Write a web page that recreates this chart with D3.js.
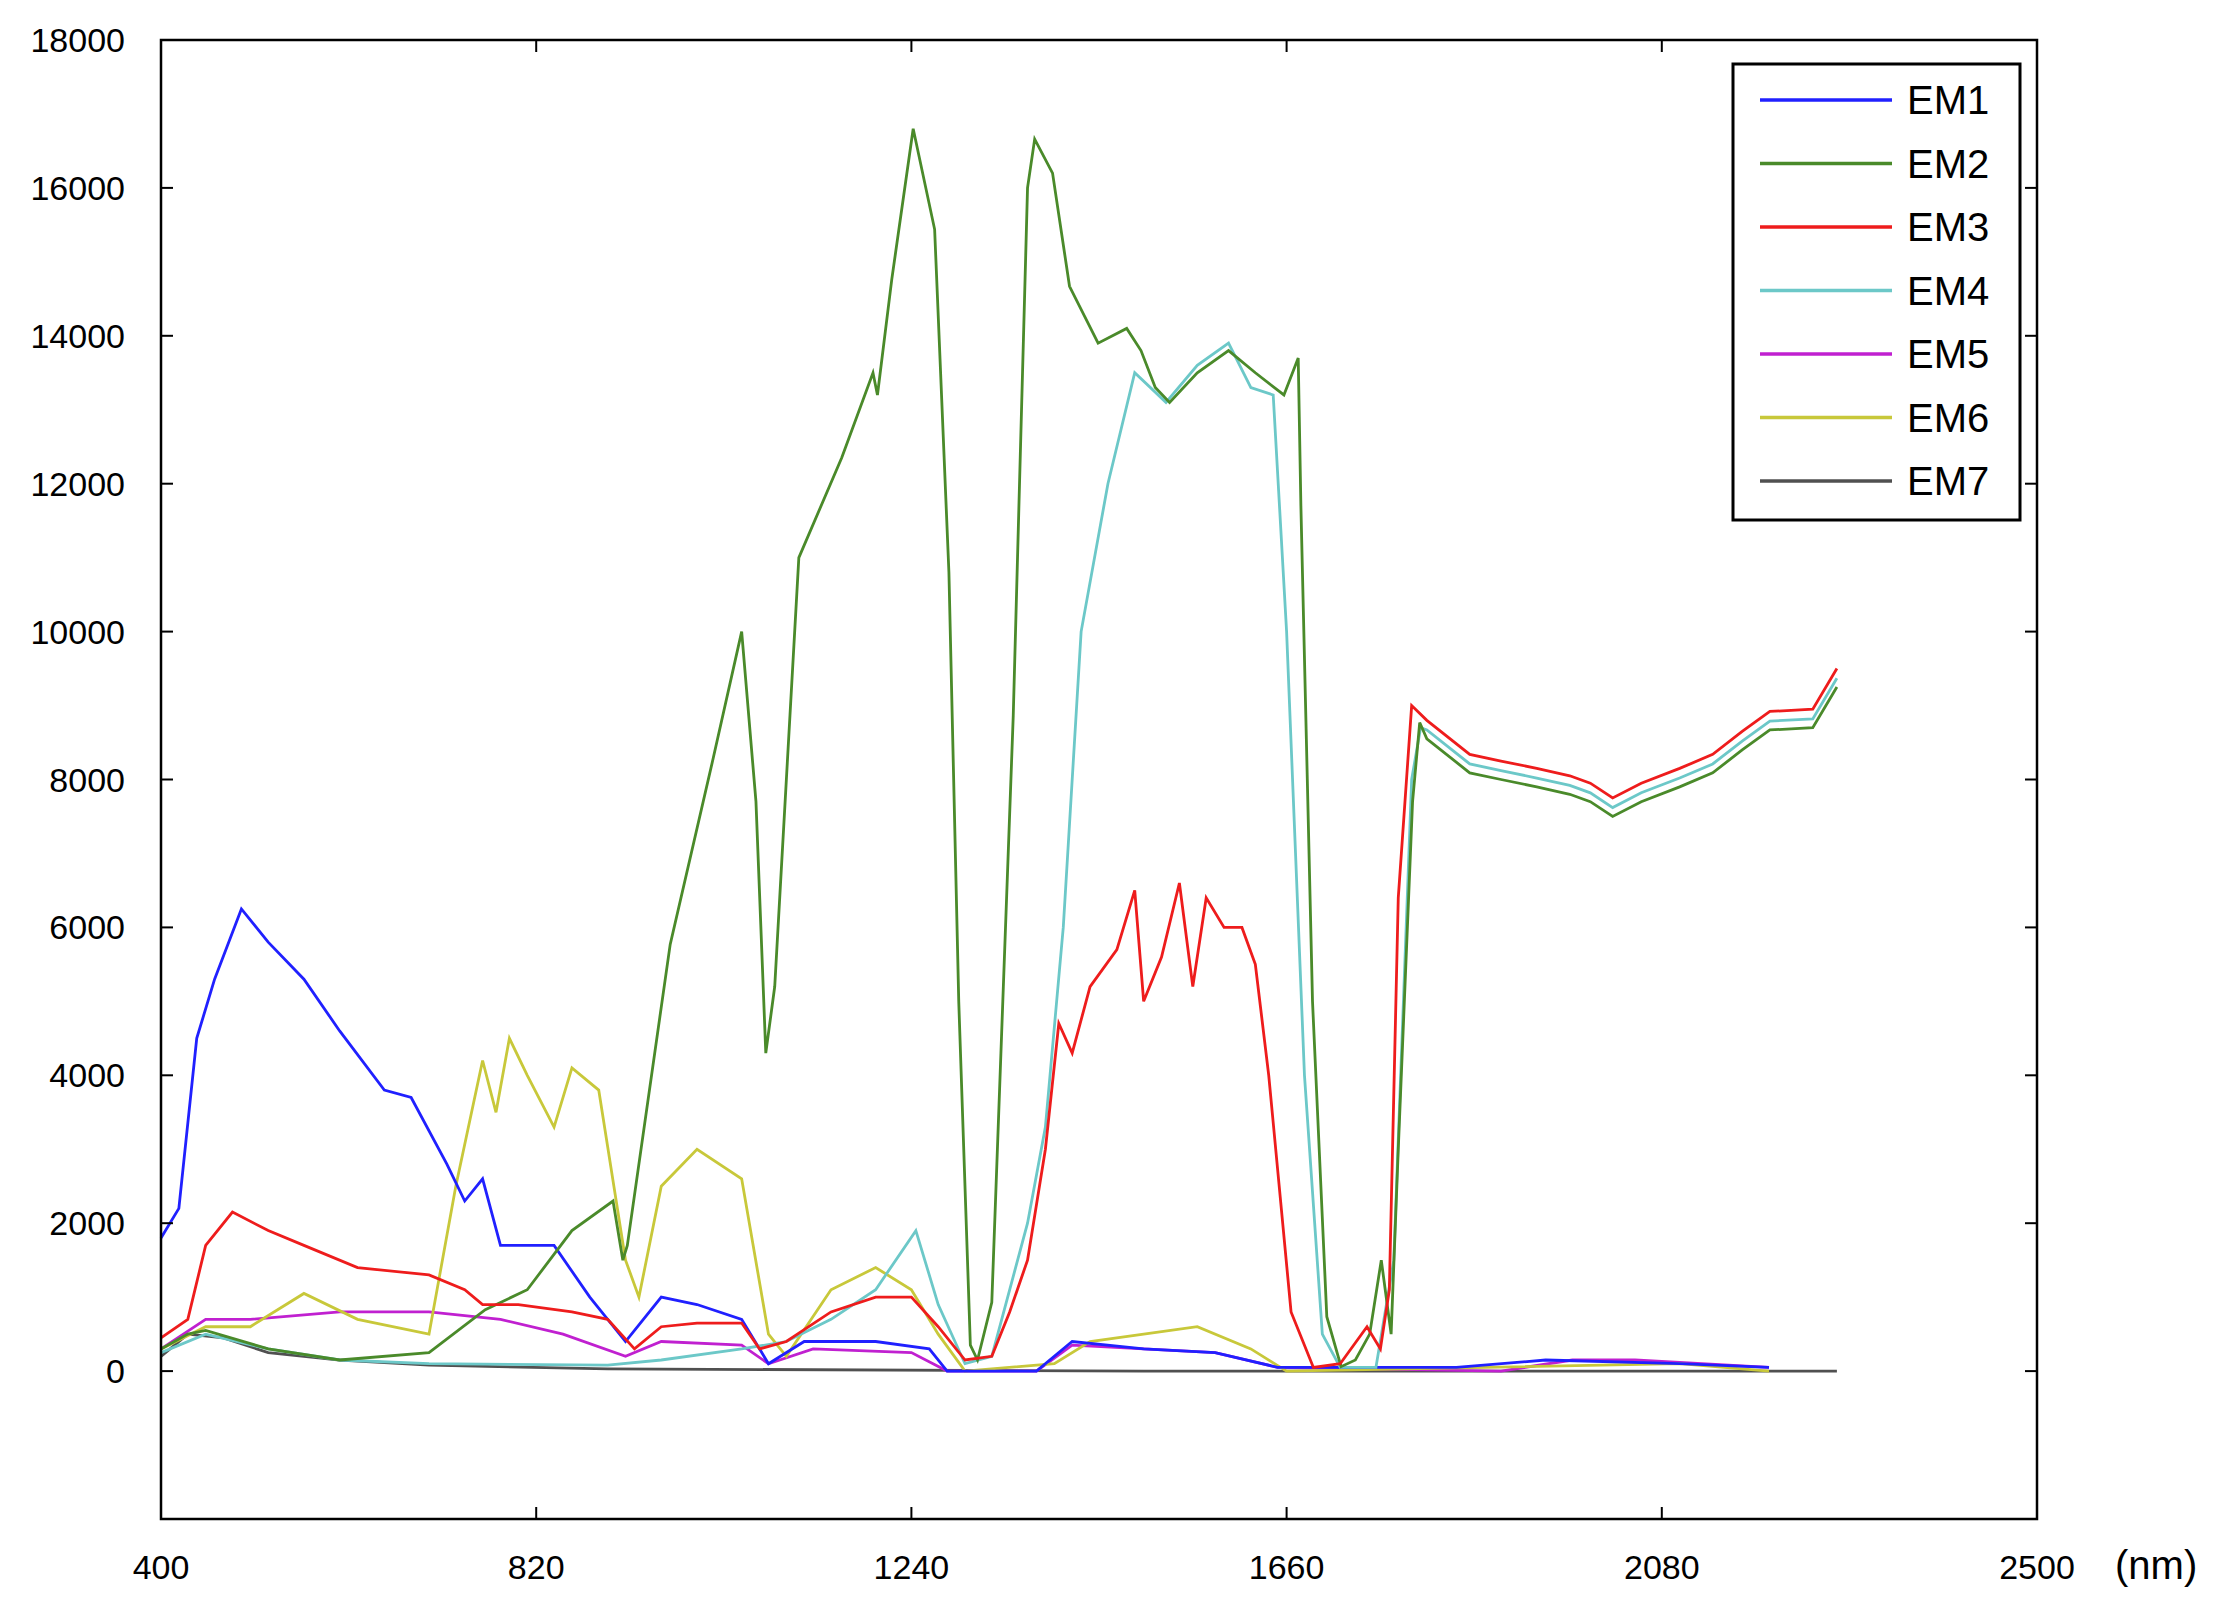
<!DOCTYPE html>
<html><head><meta charset="utf-8">
<script src="https://cdn.jsdelivr.net/npm/d3@7"></script>
<style>body{margin:0;background:#fff}svg{font-family:"Liberation Sans",Arial,sans-serif}</style>
</head><body><svg id="c" width="2229" height="1614"></svg>
<script>
const xTicks=[400,820,1240,1660,2080,2500];
const yTicks=[0,2000,4000,6000,8000,10000,12000,14000,16000,18000];
const seriesNames=["EM1","EM2","EM3","EM4","EM5","EM6","EM7"];
const colors=["#2020ff","#4a8a2a","#ee1c1c","#6cc8c8","#c020d0","#c8c83a","#505050"];
const tail=[[1817,8550],[1865,8090],[1900,8000],[1940,7900],[1977,7800],[2000,7700],[2025,7500],[2057,7700],[2100,7900],[2137,8090],[2170,8400],[2201,8670],[2249,8700],[2276,9250]];
const em1=[[400,1800],[420,2200],[440,4500],[460,5300],[490,6250],[520,5800],[560,5300],[600,4600],[650,3800],[680,3700],[720,2800],[740,2300],[760,2600],[780,1700],[810,1700],[840,1700],[880,1000],[920,400],[960,1000],[1000,900],[1050,700],[1080,100],[1120,400],[1200,400],[1260,300],[1280,0],[1380,0],[1420,400],[1500,300],[1580,250],[1650,50],[1850,50],[1950,150],[2100,100],[2200,50]];
const em2=[[400,300],[430,500],[450,550],[520,300],[600,150],[700,250],[763,830],[810,1100],[860,1900],[906,2300],[917,1500],[922,1700],[970,5770],[1018,8280],[1050,10000],[1066,7700],[1077,4300],[1087,5200],[1114,11000],[1162,12350],[1197,13500],[1202,13200],[1218,14760],[1242,16800],[1266,15440],[1282,10800],[1293,5000],[1306,350],[1314,150],[1330,930],[1354,8860],[1370,16000],[1378,16660],[1398,16200],[1417,14670],[1449,13900],[1481,14100],[1497,13800],[1513,13300],[1529,13100],[1560,13500],[1595,13800],[1625,13500],[1657,13200],[1673,13700],[1676,11700],[1689,5000],[1705,735],[1721,60],[1737,150],[1753,500],[1766,1500],[1777,500],[1785,3000],[1801,7700],[1809,8770],...tail];
const em3=[[400,450],[430,700],[450,1700],[480,2150],[520,1900],[560,1700],[620,1400],[700,1300],[740,1100],[760,900],[800,900],[860,800],[900,700],[930,300],[960,600],[1000,650],[1050,650],[1070,300],[1100,400],[1150,800],[1200,1000],[1240,1000],[1270,600],[1300,150],[1330,200],[1350,800],[1370,1500],[1390,3000],[1405,4700],[1420,4300],[1440,5200],[1470,5700],[1490,6500],[1500,5000],[1520,5600],[1540,6600],[1555,5200],[1570,6400],[1590,6000],[1610,6000],[1625,5500],[1640,4000],[1665,800],[1690,50],[1720,100],[1750,600],[1765,300],[1775,1100],[1785,6400],[1800,9000],...tail.map(d=>[d[0],d[1]+250])];
const em4=[[400,250],[450,500],[520,300],[600,150],[700,100],[900,80],[960,150],[1050,300],[1100,400],[1150,700],[1200,1100],[1245,1900],[1270,900],[1300,100],[1330,200],[1370,2000],[1390,3300],[1410,6000],[1430,10000],[1460,12000],[1490,13500],[1525,13100],[1560,13600],[1595,13900],[1620,13300],[1645,13200],[1660,10000],[1680,4000],[1700,500],[1720,50],[1760,50],[1780,1500],[1800,8000],[1810,8700],...tail.map(d=>[d[0],d[1]+120])];
const em5=[[400,300],[450,700],[500,700],[600,800],[700,800],[780,700],[850,500],[920,200],[960,400],[1050,350],[1080,100],[1130,300],[1240,250],[1280,0],[1380,0],[1420,350],[1500,300],[1580,250],[1650,50],[1900,0],[1980,150],[2050,150],[2200,50]];
const em6=[[400,300],[450,600],[500,600],[560,1050],[620,700],[700,500],[730,2500],[760,4200],[775,3500],[790,4500],[810,4000],[840,3300],[860,4100],[890,3800],[920,1500],[935,1000],[960,2500],[1000,3000],[1050,2600],[1080,500],[1100,200],[1150,1100],[1200,1400],[1240,1100],[1270,500],[1300,0],[1400,100],[1440,400],[1560,600],[1620,300],[1660,0],[2100,100],[2200,0]];
const em7=[[400,200],[430,500],[470,450],[520,250],[600,150],[700,80],[900,30],[1500,0],[2276,0]];
const data=[em1,em2,em3,em4,em5,em6,em7];

const svg=d3.select("#c");
const L=161,R=2037,T=40,B=1519;
const x=d3.scaleLinear().domain([400,2500]).range([L,R]);
const y=d3.scaleLinear().domain([-2000,18000]).range([B,T]);
const line=d3.line().x(d=>x(d[0])).y(d=>y(d[1])).curve(d3.curveLinear);
const g=svg.append("g");
// draw order: lower series first, green and red on top
[6,4,5,0,3,1,2].forEach(i=>{
  g.append("path").attr("d",line(data[i])).attr("fill","none").attr("stroke",colors[i]).attr("stroke-width",2.8);
});
svg.append("rect").attr("x",L).attr("y",T).attr("width",R-L).attr("height",B-T).attr("fill","none").attr("stroke","#000").attr("stroke-width",2.5);
const tl=12;
xTicks.forEach(v=>{
  svg.append("line").attr("x1",x(v)).attr("x2",x(v)).attr("y1",B).attr("y2",B-tl).attr("stroke","#000").attr("stroke-width",2);
  svg.append("line").attr("x1",x(v)).attr("x2",x(v)).attr("y1",T).attr("y2",T+tl).attr("stroke","#000").attr("stroke-width",2);
  svg.append("text").attr("x",x(v)).attr("y",B+60).attr("text-anchor","middle").attr("font-size",34).text(v);
});
svg.append("text").attr("x",2115).attr("y",B+60).attr("font-size",40).text("(nm)");
yTicks.forEach(v=>{
  svg.append("line").attr("x1",L).attr("x2",L+tl).attr("y1",y(v)).attr("y2",y(v)).attr("stroke","#000").attr("stroke-width",2);
  svg.append("line").attr("x1",R).attr("x2",R-tl).attr("y1",y(v)).attr("y2",y(v)).attr("stroke","#000").attr("stroke-width",2);
  svg.append("text").attr("x",125).attr("y",y(v)+12).attr("text-anchor","end").attr("font-size",34).text(v);
});
const lg=svg.append("g");
lg.append("rect").attr("x",1733).attr("y",64).attr("width",287).attr("height",456).attr("fill","#fff").attr("stroke","#000").attr("stroke-width",3);
seriesNames.forEach((n,i)=>{
  const yy=100+i*63.5;
  lg.append("line").attr("x1",1760).attr("x2",1892).attr("y1",yy).attr("y2",yy).attr("stroke",colors[i]).attr("stroke-width",3.5);
  lg.append("text").attr("x",1907).attr("y",yy+14).attr("font-size",40).text(n);
});
</script></body></html>
